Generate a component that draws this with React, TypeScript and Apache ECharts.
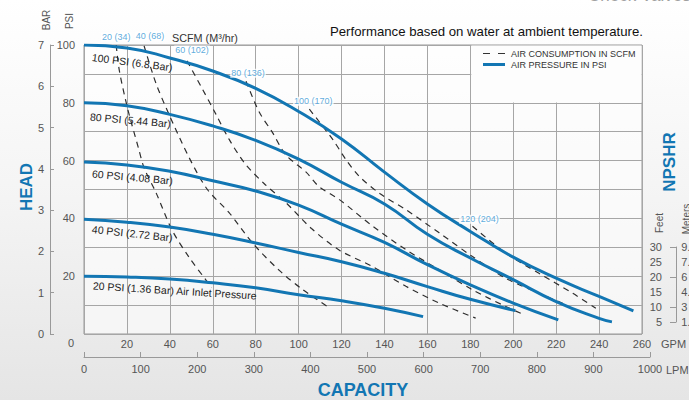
import React, { useEffect, useRef } from 'react';
import * as echarts from 'echarts';

// ---------- data (GPM, PSI) ----------
const psi100Curve = [[0, 100], [20, 99], [40, 95.5], [60, 91], [80, 85], [100, 77], [120, 67.5], [140, 56], [160, 45], [180, 35.5], [200, 26.6], [220, 19.3], [240, 13], [256, 8]];
const psi80Curve = [[0, 80], [20, 79], [40, 76], [60, 72], [80, 67], [100, 60.5], [120, 52.5], [140, 45], [160, 34.5], [180, 26.3], [200, 18.8], [220, 11.2], [240, 5.4], [246, 4.2]];
const psi60Curve = [[0, 59.5], [20, 58.5], [40, 56.3], [60, 53], [80, 49.5], [100, 44.6], [120, 38], [140, 31.7], [160, 24], [180, 17], [200, 10.7], [221, 4.9]];
const psi40Curve = [[0, 39.7], [20, 38.7], [40, 37], [60, 34.5], [80, 31.5], [100, 28.2], [120, 25], [140, 21], [160, 16.4], [180, 12], [201, 8.1]];
const psi20Curve = [[0, 20], [20, 19.7], [40, 19], [60, 17.7], [80, 16], [100, 13.6], [120, 11.5], [140, 8.9], [158, 6]];

const pressureLabels = ['100 PSI (6.8 Bar)', '80 PSI (5.44 Bar)', '60 PSI (4.08 Bar)', '40 PSI (2.72 Bar)', '20 PSI (1.36 Bar) Air Inlet Pressure'];

const scfm20 = [[15, 100], [16.5, 91], [20.5, 77.5], [25.5, 64], [28, 57.5], [33.5, 49], [41, 36], [49, 26.5], [57, 18.5], [59.5, 16]];
const scfm40 = [[28, 99.7], [33.4, 87], [39.6, 76], [49, 61], [57.5, 50], [67.6, 42], [78.5, 31.5], [91, 22], [102, 15.3], [113.5, 9.5]];
const scfm60 = [[48, 94.5], [55, 85], [61.5, 76], [67.5, 67.5], [75, 59], [84, 52], [94, 45.5], [106, 36.5], [119, 29], [134, 23.5], [150, 16.5], [165.5, 10.7], [182.5, 5.5]];
const scfm80 = [[75.5, 87.5], [81.5, 77], [88, 69.5], [94, 62], [103.5, 56], [109.5, 51], [119, 46.5], [134.5, 37.3], [150, 29.2], [165.5, 22.2], [181, 15.3], [196.5, 9.5], [203.5, 7.2]];
const scfm100 = [[105, 77.8], [115.8, 67.4], [122, 60.4], [128.2, 54.6], [138, 48.5], [150, 43], [165.5, 35], [181, 26.8], [196.5, 19.3], [212, 14.1], [225, 10]];
const scfm120 = [[181, 37.3], [196.5, 28], [212, 21], [227.7, 14.1], [238.5, 8.9]];

const scfmLabels = ['20 (34)', '40 (68)', '60 (102)', '80 (136)', '100 (170)', '120 (204)'];

const legendNames = ['AIR CONSUMPTION IN SCFM', 'AIR PRESSURE IN PSI'];

const feetTicks = [5, 10, 15, 20, 25, 30];
const meterLabels = ['1.5', '3', '4.6', '6', '7.6', '9.1'];

// ---------- styling / layout ----------
const FONT = '"Liberation Sans", Arial, Helvetica, sans-serif';
const BLUE = '#1276b3';
const LIGHT_BLUE = '#3596d4';
const GRID_LINE = '#a6a6a6';
const AXIS_TXT = '#555';
const scfmLabelShift = [[0, -1], [6, -3], [5, -4], [2, -1], [4, -1], [7, 0]];
const pressureLabelPos = [[92, 57, -7.3], [90, 117, -5], [92, 174, -5], [92, 229, -6], [93, 286, -3.5]];

function txt(text: string, x: number, y: number, extra: any = {}, style: any = {}) {
  const align = style.align || 'left';
  const valign = style.verticalAlign || 'middle';
  return {
    type: 'text',
    x,
    y,
    z: 10,
    silent: true,
    ...extra,
    style: {
      text,
      fill: style.fill || '#333',
      fontSize: style.fontSize || 11,
      fontWeight: style.fontWeight || 'normal',
      fontFamily: FONT,
      align,
      verticalAlign: valign,
      textAlign: align,
      textVerticalAlign: valign,
    },
  };
}

export default function App() {
  const ref = useRef<HTMLDivElement>(null);

  useEffect(() => {
    if (!ref.current) return;
    const chart = echarts.init(ref.current, null, { renderer: 'svg' });

    const pressureCurves = [psi100Curve, psi80Curve, psi60Curve, psi40Curve, psi20Curve];
    const scfmCurves = [scfm20, scfm40, scfm60, scfm80, scfm100, scfm120];

    const pressureSeries = pressureCurves.map((d) => ({
      type: 'line',
      name: legendNames[1],
      xAxisIndex: 0,
      yAxisIndex: 0,
      data: d,
      smooth: true,
      symbol: 'none',
      lineStyle: { color: BLUE, width: 3 },
      itemStyle: { color: BLUE },
      z: 3,
      silent: true,
    }));

    const scfmSeries = scfmCurves.map((d) => ({
      type: 'line',
      name: legendNames[0],
      xAxisIndex: 0,
      yAxisIndex: 0,
      data: d,
      smooth: 0.3,
      symbol: 'none',
      lineStyle: { color: '#2e2e2e', width: 1.2, type: [6, 5] },
      itemStyle: { color: '#2e2e2e' },
      z: 2,
      silent: true,
    }));

    const scfmLabelSeries = {
      type: 'scatter',
      name: 'scfm-labels',
      xAxisIndex: 0,
      yAxisIndex: 0,
      symbolSize: 1,
      itemStyle: { color: 'rgba(0,0,0,0)' },
      z: 4,
      silent: true,
      data: scfmCurves.map((d, i) => ({
        value: d[0],
        label: { offset: scfmLabelShift[i] },
      })),
      label: {
        show: true,
        position: 'top',
        distance: 2,
        formatter: (p: any) => scfmLabels[p.dataIndex],
        color: LIGHT_BLUE,
        fontSize: 9,
        fontFamily: FONT,
        backgroundColor: '#ffffff',
        padding: [0, 1],
      },
    };

    const graphics: any[] = [
      {
        type: 'rect',
        shape: { x: 471.3, y: 45.6, width: 170.2, height: 56.8 },
        style: { fill: '#fdfdfd' },
        z: 1,
        silent: true,
      },
      // legend
      {
        type: 'line',
        shape: { x1: 483, y1: 53.5, x2: 505, y2: 53.5 },
        style: { stroke: '#333', lineWidth: 1, lineDash: [7, 8] },
        z: 10,
        silent: true,
      },
      {
        type: 'line',
        shape: { x1: 483, y1: 64.5, x2: 505, y2: 64.5 },
        style: { stroke: BLUE, lineWidth: 3 },
        z: 10,
        silent: true,
      },
      txt(legendNames[0], 511, 53.5, {}, { fontSize: 9, fill: '#333' }),
      txt(legendNames[1], 511, 64.5, {}, { fontSize: 9, fill: '#333' }),
      txt('Performance based on water at ambient temperature.', 643, 31, {}, { align: 'right', fontSize: 13.2, fill: '#111' }),
      txt('Check Valves', 588, -13, {}, { verticalAlign: 'top', fontSize: 17, fill: '#a0a0a0' }),
      txt('SCFM (M³/hr)', 172, 38, {}, { fontSize: 10.8, fill: '#333' }),
      txt('BAR', 46, 20, { rotation: Math.PI / 2 }, { align: 'center', fontSize: 10, fill: AXIS_TXT }),
      txt('PSI', 69, 21, { rotation: Math.PI / 2 }, { align: 'center', fontSize: 10, fill: AXIS_TXT }),
      txt('HEAD', 26, 187, { rotation: Math.PI / 2 }, { align: 'center', fontSize: 17, fontWeight: 'bold', fill: BLUE }),
      txt('CAPACITY', 363, 390, {}, { align: 'center', fontSize: 18, fontWeight: 'bold', fill: BLUE }),
      txt('NPSHR', 669, 162, { rotation: Math.PI / 2 }, { align: 'center', fontSize: 17, fontWeight: 'bold', fill: BLUE }),
      txt('Feet', 659, 223, { rotation: Math.PI / 2 }, { align: 'center', fontSize: 10, fill: AXIS_TXT }),
      txt('Meters', 686, 219, { rotation: Math.PI / 2 }, { align: 'center', fontSize: 10, fill: AXIS_TXT }),
      txt('GPM', 661, 343.5, {}, { fontSize: 11, fill: AXIS_TXT }),
      txt('LPM', 666, 370, {}, { fontSize: 11, fill: AXIS_TXT }),
      txt('0', 71, 343, {}, { align: 'center', fontSize: 11, fill: AXIS_TXT }),
    ];
    pressureLabels.forEach((t, i) => {
      const [x, y, a] = pressureLabelPos[i];
      graphics.push(txt(t, x, y, { rotation: (a * Math.PI) / 180 }, { fontSize: 10.5, fill: '#222' }));
    });

    const option: any = {
      animation: false,
      backgroundColor: {
        type: 'linear', x: 0, y: 0, x2: 0, y2: 1,
        colorStops: [
          { offset: 0, color: '#ffffff' },
          { offset: 0.5, color: '#f4f4f4' },
          { offset: 1, color: '#e5e5e5' },
        ],
      },
      textStyle: { fontFamily: FONT },
      grid: [
        { left: 84, top: 45, width: 558, height: 289, show: true, borderColor: '#999', borderWidth: 1, backgroundColor: 'rgba(255,255,255,0.55)', containLabel: false },
        { left: 84, top: 356, width: 566, height: 1, show: false, containLabel: false },
        { left: 676, top: 247, width: 1, height: 75, show: false, containLabel: false },
      ],
      xAxis: [
        {
          gridIndex: 0, type: 'value', min: 0, max: 260, interval: 20,
          axisLine: { show: false }, axisTick: { show: false },
          splitLine: { show: true, lineStyle: { color: GRID_LINE, width: 1 } },
          axisLabel: { color: AXIS_TXT, fontSize: 11, margin: 4, formatter: (v: number) => (v === 0 ? '' : String(v)) },
        },
        {
          gridIndex: 1, type: 'value', min: 0, max: 1000, interval: 100,
          axisLine: { show: true, lineStyle: { color: '#999', width: 1 } },
          axisTick: { show: true, inside: true, length: 5, lineStyle: { color: '#999' } },
          splitLine: { show: false },
          axisLabel: { color: AXIS_TXT, fontSize: 11, margin: 6, formatter: (v: number) => String(v) },
        },
        { gridIndex: 2, type: 'value', show: false, min: 0, max: 1 },
      ],
      yAxis: [
        {
          gridIndex: 0, type: 'value', min: 0, max: 100, interval: 10,
          axisLine: { show: false }, axisTick: { show: false },
          splitLine: { show: true, lineStyle: { color: GRID_LINE, width: 1 } },
          axisLabel: { color: AXIS_TXT, fontSize: 11, margin: 9, formatter: (v: number) => (v > 0 && v % 20 === 0 ? String(v) : '') },
        },
        {
          gridIndex: 0, type: 'value', min: 0, max: 7, interval: 1, position: 'left', offset: 34,
          axisLine: { show: true, lineStyle: { color: '#999', width: 1 } },
          axisTick: { show: true, inside: true, length: 4, lineStyle: { color: '#999' } },
          splitLine: { show: false },
          axisLabel: { color: AXIS_TXT, fontSize: 11, margin: 6 },
        },
        { gridIndex: 1, type: 'value', show: false, min: 0, max: 1 },
        {
          gridIndex: 2, type: 'value', min: 5, max: 30, interval: 5, position: 'left',
          axisLine: { show: true, lineStyle: { color: '#999', width: 1 } },
          axisTick: { show: true, length: 6, customValues: [5, 10, 20, 30], lineStyle: { color: '#999' } },
          splitLine: { show: false },
          axisLabel: { color: AXIS_TXT, fontSize: 11, margin: 14, customValues: feetTicks },
        },
        {
          gridIndex: 2, type: 'value', min: 5, max: 30, interval: 5, position: 'right',
          axisLine: { show: false }, axisTick: { show: false },
          splitLine: { show: false },
          axisLabel: {
            color: AXIS_TXT, fontSize: 11, margin: 5, customValues: feetTicks,
            formatter: (v: number) => meterLabels[feetTicks.indexOf(v)] ?? '',
          },
        },
      ],
      series: [...scfmSeries, ...pressureSeries, scfmLabelSeries],
      graphic: { elements: graphics },
    };

    chart.setOption(option);
    return () => chart.dispose();
  }, []);

  return <div ref={ref} style={{ position: 'absolute', left: 0, top: 0, width: 689, height: 400 }} />;
}
